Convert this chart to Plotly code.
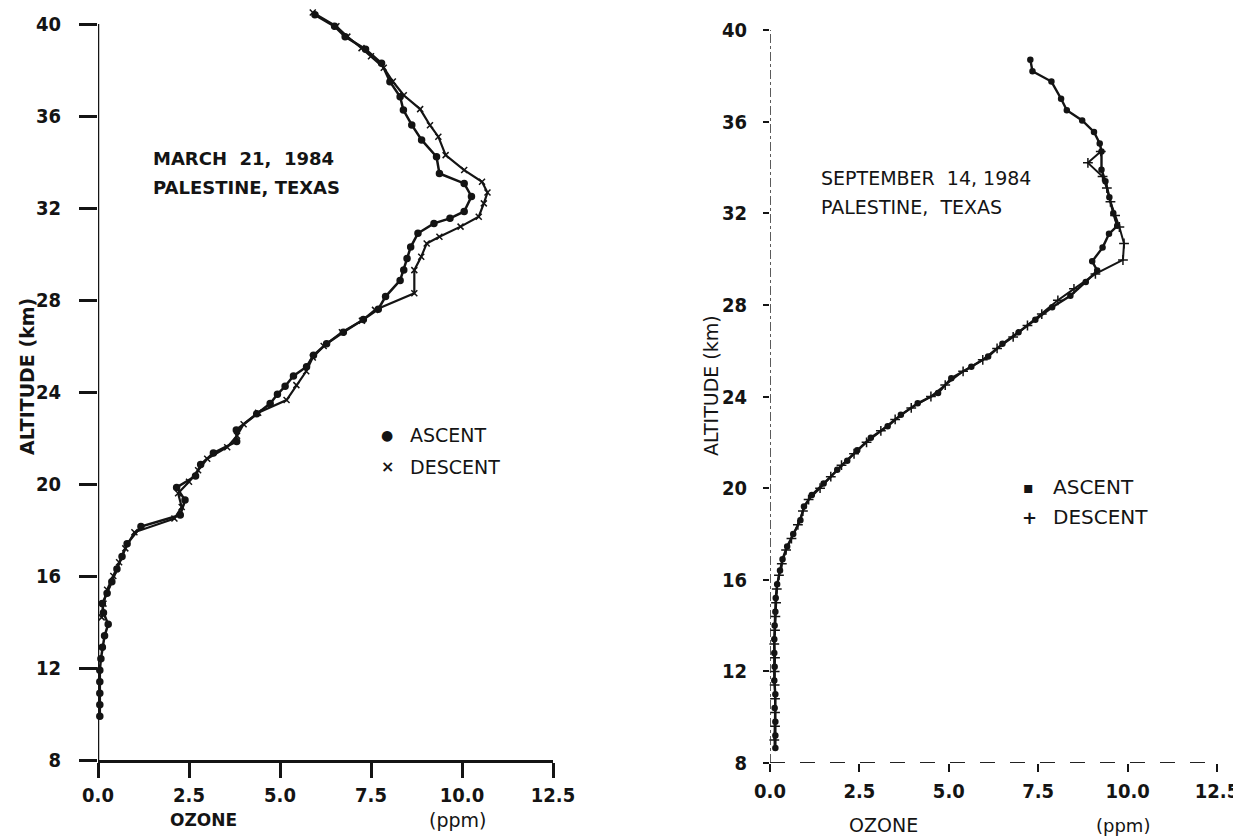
import plotly.graph_objects as go

# ---------------- data ----------------
# Left panel: March 21, 1984 (altitude km, ozone ppm)
mar_asc_alt = [9.9, 10.4, 10.9, 11.4, 11.9, 12.4, 12.9, 13.4, 13.9, 14.4, 14.8, 15.25, 15.75,
               16.3, 16.85, 17.4, 18.15, 18.65, 19.3, 19.85, 20.35, 20.85, 21.35, 21.85, 22.35,
               23.05, 23.5, 23.9, 24.25, 24.7, 25.1, 25.6, 26.1, 26.6, 27.15, 27.6, 28.15, 28.85,
               29.3, 29.8, 30.3, 30.9, 31.33, 31.55, 31.85, 32.5, 33.07, 33.5, 34.23, 34.96,
               35.61, 36.26, 36.84, 37.49, 38.29, 38.9, 39.45, 39.9, 40.4]
mar_asc_o3 = [0.05, 0.05, 0.05, 0.05, 0.05, 0.08, 0.12, 0.18, 0.28, 0.15, 0.12, 0.25, 0.38,
              0.52, 0.66, 0.80, 1.18, 2.26, 2.39, 2.16, 2.68, 2.82, 3.17, 3.81, 3.80,
              4.36, 4.73, 4.93, 5.14, 5.37, 5.73, 5.92, 6.28, 6.74, 7.29, 7.70, 7.90, 8.30,
              8.40, 8.49, 8.59, 8.79, 9.23, 9.67, 10.06, 10.26, 10.06, 9.38, 9.30, 8.89,
              8.62, 8.39, 8.30, 8.02, 7.79, 7.35, 6.79, 6.50, 5.96]

mar_des_alt = [14.2, 14.8, 15.4, 16.0, 16.6, 17.2, 17.9, 18.5, 19.0, 19.6, 20.1, 20.6, 21.1,
               21.6, 22.1, 22.6, 23.1, 23.65, 24.3, 24.9, 25.5, 26.0, 26.6, 27.1, 27.57, 28.29,
               29.3, 29.88, 30.46, 30.75, 31.19, 31.62, 32.2, 32.67, 33.14, 33.65, 34.3, 35.1,
               35.6, 36.3, 36.9, 37.5, 38.1, 38.6, 38.95, 39.45, 39.9, 40.5]
mar_des_o3 = [0.10, 0.15, 0.25, 0.42, 0.58, 0.75, 1.00, 2.10, 2.30, 2.20, 2.50, 2.75, 3.00,
              3.55, 3.82, 4.00, 4.40, 5.18, 5.45, 5.72, 5.90, 6.20, 6.70, 7.25, 7.61, 8.69,
              8.69, 8.88, 9.03, 9.38, 9.96, 10.46, 10.60, 10.70, 10.55, 10.06, 9.55, 9.35,
              9.12, 8.85, 8.40, 8.10, 7.85, 7.50, 7.24, 6.85, 6.55, 5.90]

# Right panel: September 14, 1984
sep_asc_alt = [8.65, 9.2, 9.8, 10.4, 11.0, 11.6, 12.2, 12.8, 13.4, 14.0, 14.6, 15.2, 15.8,
               16.4, 16.9, 17.45, 18.0, 18.6, 19.2, 19.7, 20.2, 20.8, 21.2, 21.65, 22.2, 22.7,
               23.2, 23.7, 24.15, 24.8, 25.3, 25.75, 26.3, 26.8, 27.35, 27.9, 28.4, 29.0, 29.5,
               29.9, 30.5, 31.1, 31.45, 32.0, 32.7, 33.4, 33.9, 34.7, 35.05, 35.55, 36.05, 36.5,
               37.0, 37.75, 38.2, 38.7]
sep_asc_o3 = [0.15, 0.15, 0.15, 0.13, 0.15, 0.12, 0.13, 0.12, 0.12, 0.13, 0.15, 0.16, 0.20,
              0.28, 0.35, 0.48, 0.65, 0.85, 0.95, 1.17, 1.50, 1.88, 2.16, 2.44, 2.82, 3.29,
              3.66, 4.13, 4.70, 5.07, 5.63, 6.10, 6.50, 6.95, 7.42, 7.89, 8.40, 8.83, 9.15,
              9.01, 9.30, 9.48, 9.71, 9.60, 9.49, 9.38, 9.27, 9.27, 9.22, 9.06, 8.73, 8.30,
              8.14, 7.87, 7.34, 7.28]

sep_des_alt = [9.0, 9.6, 10.2, 10.8, 11.4, 12.0, 12.6, 13.2, 13.8, 14.4, 15.0, 15.6, 16.2,
               16.7, 17.3, 17.8, 18.4, 19.0, 19.5, 20.0, 20.5, 21.0, 21.5, 22.0, 22.5, 23.0,
               23.5, 24.0, 24.5, 25.1, 25.6, 26.1, 26.6, 27.1, 27.6, 28.2, 28.7, 29.35, 29.96,
               30.68, 31.4, 31.9, 32.5, 33.1, 33.6, 34.2, 34.7]
sep_des_o3 = [0.12, 0.14, 0.14, 0.14, 0.13, 0.13, 0.14, 0.12, 0.14, 0.15, 0.17, 0.19, 0.25,
              0.33, 0.45, 0.60, 0.78, 0.92, 1.08, 1.40, 1.70, 2.00, 2.35, 2.70, 3.10, 3.50,
              3.95, 4.50, 4.90, 5.40, 5.95, 6.35, 6.80, 7.20, 7.60, 8.05, 8.50, 9.10, 9.87,
              9.90, 9.77, 9.65, 9.52, 9.42, 9.30, 8.89, 9.25]

x_tickvals = [0, 2.5, 5, 7.5, 10, 12.5]
x_ticktext = ["0.0", "2.5", "5.0", "7.5", "10.0", "12.5"]
y_tickvals = [8, 12, 16, 20, 24, 28, 32, 36, 40]
y_ticktext = ["8", "12", "16", "20", "24", "28", "32", "36", "40"]

# ---------------- layout helpers ----------------
OFF = 8                      # page body margin of the written html
W, H = 1241 - OFF, 839 - OFF
def fx(p):
    return min(1.0, max(0.0, (p - OFF) / W))
def fy(p):
    return min(1.0, max(0.0, 1 - (p - OFF) / H))

INK = "#141414"
TICKFONT = dict(family="Liberation Sans Narrow, DejaVu Sans Condensed, Liberation Sans, sans-serif",
                size=20, color=INK, weight="bold")
TXTFONT = dict(family="DejaVu Sans, Liberation Sans, sans-serif", size=16, color=INK, weight="bold")

# left panel pixel anchors (page pixels)
L_x0, L_x1 = 98, 553       # ozone 0 and 12.5
L_y8, L_y40 = 760, 24      # altitude 8 and 40
L_top = 40.6
L_ytop_px = L_y8 - (L_top - 8) * (L_y8 - L_y40) / 32
# right panel
R_x0, R_x1 = 770, 1217
R_y8, R_y40 = 763, 30

fig = go.Figure()

def add_series(xs, ys, xa, ya, symbol, size, name, lw):
    fig.add_trace(go.Scatter(
        x=xs, y=ys, xaxis=xa, yaxis=ya, mode="lines+markers", name=name,
        line=dict(color=INK, width=lw),
        marker=dict(symbol=symbol, size=size, color=INK, line=dict(color=INK, width=1.5)),
        cliponaxis=False, showlegend=False))

add_series(mar_asc_o3, mar_asc_alt, "x", "y", "circle", 6, "ASCENT", 2.5)
add_series(mar_des_o3, mar_des_alt, "x", "y", "x-thin", 6, "DESCENT", 2.2)
add_series(sep_asc_o3, sep_asc_alt, "x2", "y2", "circle", 5, "ASCENT", 2.4)
add_series(sep_des_o3, sep_des_alt, "x2", "y2", "cross-thin", 7, "DESCENT", 2.0)

fig.update_layout(
    width=W, height=H,
    margin=dict(l=0, r=0, t=0, b=0, autoexpand=False),
    paper_bgcolor="white", plot_bgcolor="white",
    showlegend=False,
    xaxis=dict(domain=[fx(L_x0), fx(L_x1)], range=[0, 12.5], anchor="y", automargin=False,
               tickvals=x_tickvals, ticktext=x_ticktext, showgrid=False, zeroline=False,
               showline=True, linecolor=INK, linewidth=2.5,
               ticks="outside", ticklen=15, tickwidth=2.5, tickcolor=INK,
               tickfont=TICKFONT, ticklabelstandoff=0),
    yaxis=dict(domain=[fy(L_y8), fy(L_ytop_px)], range=[8, L_top], anchor="x", automargin=False,
               tickvals=y_tickvals, ticktext=y_ticktext, showgrid=False, zeroline=False,
               showline=False,
               ticks="outside", ticklen=18, tickwidth=3, tickcolor=INK,
               tickfont=TICKFONT, ticklabelstandoff=14),
    xaxis2=dict(domain=[fx(R_x0), fx(R_x1)], range=[0, 12.5], anchor="y2", automargin=False,
                tickvals=x_tickvals, ticktext=x_ticktext, showgrid=False, zeroline=False,
                showline=False,
                ticks="outside", ticklen=8, tickwidth=1.5, tickcolor=INK,
                tickfont=dict(TICKFONT, weight=600), ticklabelstandoff=2),
    yaxis2=dict(domain=[fy(R_y8), fy(R_y40)], range=[8, 40], anchor="x2", automargin=False,
                tickvals=y_tickvals, ticktext=y_ticktext, showgrid=False, zeroline=False,
                showline=False,
                ticks="outside", ticklen=6, tickwidth=1.5, tickcolor=INK,
                tickfont=dict(TICKFONT, weight=600), ticklabelstandoff=12),
)

# axis lines drawn as shapes (left y axis stops at 40, right axes are broken lines)
fig.add_shape(type="line", xref="x", yref="y", x0=0, x1=0, y0=8, y1=40,
              line=dict(color=INK, width=2.5))
fig.add_shape(type="line", xref="x2", yref="y2", x0=0, x1=0, y0=8, y1=40,
              line=dict(color="#333", width=1.6, dash="dashdot"))
fig.add_shape(type="line", xref="x2", yref="y2", x0=0, x1=12.5, y0=8, y1=8,
              line=dict(color="#222", width=2.2, dash="longdash"))

ann = []
def text(x, y, s, xanchor="left", size=None, angle=0, weight="bold"):
    f = dict(TXTFONT)
    if size:
        f["size"] = size
    f["weight"] = weight
    ann.append(dict(x=fx(x), y=fy(y), xref="paper", yref="paper", text=s, showarrow=False,
                    xanchor=xanchor, yanchor="middle", font=f, textangle=angle))

NB = "\u00a0"
# left panel texts
text(151, 158, "MARCH" + NB * 2 + "21," + NB * 2 + "1984", size=18)
text(151, 188, "PALESTINE," + NB + "TEXAS", size=18)
text(387, 435, "\u25cf", xanchor="center", size=14)
text(388, 466, "\u00d7", xanchor="center", size=16)
text(408, 435, "ASCENT", size=19, weight="normal")
text(408, 467, "DESCENT", size=19, weight="normal")
text(27, 377, "ALTITUDE (km)", xanchor="center", size=19, angle=-90)
text(203, 820, "OZONE", xanchor="center", size=17)
text(457, 820, "(ppm)", xanchor="center", size=19, weight="normal")

# right panel texts
text(819, 178, "SEPTEMBER" + NB * 2 + "14," + NB + "1984", size=19, weight="normal")
text(819, 207, "PALESTINE," + NB * 2 + "TEXAS", size=19, weight="normal")
text(1028, 487, "\u25aa", xanchor="center", size=16)
text(1030, 517, "+", xanchor="center", size=18)
text(1051, 487, "ASCENT", size=20, weight="normal")
text(1051, 517, "DESCENT", size=20, weight="normal")
text(711, 386, "ALTITUDE (km)", xanchor="center", size=19, angle=-90, weight="normal")
text(883, 825, "OZONE", xanchor="center", size=19, weight="normal")
text(1123, 825, "(ppm)", xanchor="center", size=18, weight="normal")

fig.update_layout(annotations=ann)

fig.write_html("out.html")
